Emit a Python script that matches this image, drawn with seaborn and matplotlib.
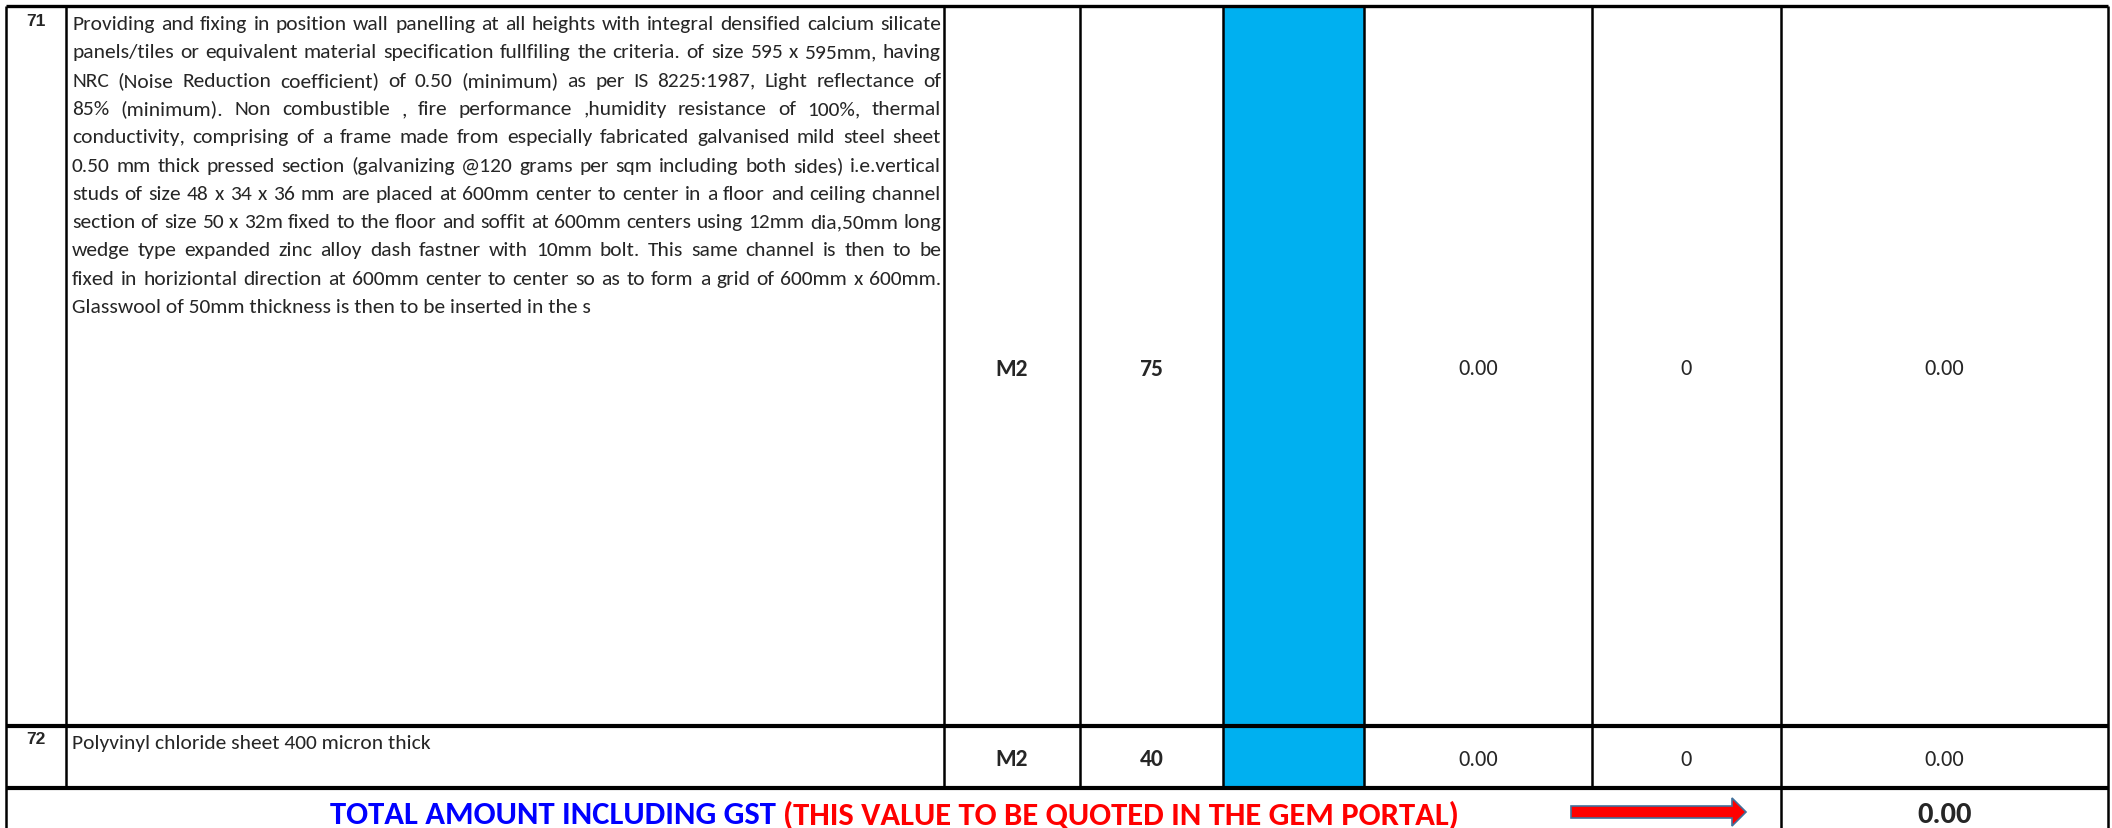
import matplotlib
matplotlib.use("Agg")
import matplotlib.pyplot as plt
from matplotlib import font_manager
from matplotlib.patches import FancyArrow
import seaborn as sns

# Table contents
item_numbers = ["71", "72"]
item_71_lines = [
    "Providing and fixing in position wall panelling at all heights with integral densified calcium silicate",
    "panels/tiles or equivalent material specification fullfiling the criteria. of size 595 x 595mm, having",
    "NRC (Noise Reduction coefficient) of 0.50 (minimum) as per IS 8225:1987, Light reflectance of",
    "85% (minimum). Non combustible , fire performance ,humidity resistance of 100%, thermal",
    "conductivity, comprising of a frame made from especially fabricated galvanised mild steel sheet",
    "0.50 mm thick pressed section (galvanizing @120 grams per sqm including both sides) i.e.vertical",
    "studs of size 48 x 34 x 36 mm are placed at 600mm center to center in a floor and ceiling channel",
    "section of size 50 x 32m fixed to the floor and soffit at 600mm centers using 12mm dia,50mm long",
    "wedge type expanded zinc alloy dash fastner with 10mm bolt. This same channel is then to be",
    "fixed in horiziontal direction at 600mm center to center so as to form a grid of 600mm x 600mm.",
    "Glasswool of 50mm thickness is then to be inserted in the s",
]
item_72_lines = ["Polyvinyl chloride sheet 400 micron thick"]
units = ["M2", "M2"]
quantities = ["75", "40"]
rates = ["0.00", "0.00"]
gst = ["0", "0"]
amounts = ["0.00", "0.00"]
total_label_blue = "TOTAL AMOUNT INCLUDING GST "
total_label_red = "(THIS VALUE TO BE QUOTED IN THE GEM PORTAL)"
total_amount = "0.00"

# layout (pixels)
W, H = 2112, 829
col_edges = [6, 66, 944, 1080, 1223, 1364, 1592, 1781, 2108]
row_edges = [7, 727, 789]
line_y0, line_step = 23, 28.3

sns.set_theme(style="white")
available = {f.name for f in font_manager.fontManager.ttflist}
body_font = next((f for f in ["Carlito", "Liberation Sans Narrow", "Lato"] if f in available), "DejaVu Sans")
target_size = {"Carlito": 16.5, "Liberation Sans Narrow": 15.0, "Lato": 14.8}.get(body_font, 14)
plt.rcParams["font.family"] = [body_font, "DejaVu Sans"]

fig = plt.figure(figsize=(W / 100, H / 100), dpi=100)
ax = fig.add_axes([0, 0, 1, 1])
ax.set_xlim(0, W)
ax.set_ylim(H, 0)
ax.axis("off")
fig.canvas.draw()
renderer = fig.canvas.get_renderer()


def text_width(s, **kw):
    t = ax.text(0, 0, s, **kw)
    w = t.get_window_extent(renderer).width
    t.remove()
    return w


# fit body size to the description column
x_left, x_right = 72, 941
widest = max(text_width(s, fontsize=10) for s in item_71_lines)
body_size = min(target_size, 10 * (x_right - x_left) / widest * 0.99)


def justified(text, y, last=False):
    words = text.split(" ")
    if last or len(words) < 2:
        ax.text(x_left, y, text, fontsize=body_size, ha="left", va="center_baseline")
        return
    widths = [text_width(w, fontsize=body_size) for w in words]
    gap = (x_right - x_left - sum(widths)) / (len(words) - 1)
    x = x_left
    for w, wd in zip(words, widths):
        ax.text(x, y, w, fontsize=body_size, ha="left", va="center_baseline")
        x += wd + gap


# blue input column
ax.axvspan(col_edges[4], col_edges[5], ymin=1 - row_edges[2] / H, ymax=1 - row_edges[0] / H,
           color="#00B0F0", lw=0, zorder=0)

# descriptions
for i, line in enumerate(item_71_lines):
    justified(line, line_y0 + i * line_step, last=(i == len(item_71_lines) - 1))
justified(item_72_lines[0], 742, last=True)

# item numbers and values
num_y = [20, 738]
centers = [(a + b) / 2 for a, b in zip(col_edges[:-1], col_edges[1:])]
row_centers = [(a + b) / 2 for a, b in zip(row_edges[:-1], row_edges[1:])]
for r in range(2):
    ax.text(centers[0], num_y[r], item_numbers[r], fontsize=12.5, fontweight="bold",
            family="Liberation Sans", ha="center", va="center_baseline")
    ax.text(centers[2], row_centers[r], units[r], fontsize=body_size + 1.5, fontweight="bold",
            ha="center", va="center_baseline")
    ax.text(centers[3], row_centers[r], quantities[r], fontsize=body_size + 1.5, fontweight="bold",
            ha="center", va="center_baseline")
    ax.text(centers[5], row_centers[r], rates[r], fontsize=body_size + 0.5, ha="center", va="center_baseline")
    ax.text(centers[6], row_centers[r], gst[r], fontsize=body_size + 0.5, ha="center", va="center_baseline")
    ax.text(centers[7], row_centers[r], amounts[r], fontsize=body_size + 0.5, ha="center", va="center_baseline")

# total row
total_y = 813
tx0, tx1 = 330, 1459
wb = text_width(total_label_blue, fontsize=10, fontweight="bold")
wr = text_width(total_label_red, fontsize=10, fontweight="bold")
total_size = 10 * (tx1 - tx0) / (wb + wr)
wb = text_width(total_label_blue, fontsize=total_size, fontweight="bold")
ax.text(tx0, total_y, total_label_blue, fontsize=total_size, fontweight="bold", color="#0000FF",
        ha="left", va="center_baseline")
ax.text(tx0 + wb, total_y, total_label_red, fontsize=total_size, fontweight="bold", color="#FF0000",
        ha="left", va="center_baseline")
ax.text(centers[7], total_y, total_amount, fontsize=22, fontweight="heavy",
        ha="center", va="center_baseline")
ax.add_patch(FancyArrow(1571, total_y, 175, 0, width=12, head_width=28, head_length=14,
                        length_includes_head=True, facecolor="#FF0000", edgecolor="#41719C", lw=1.2))

# grid lines
ax.hlines(row_edges[0], col_edges[0], col_edges[-1], color="black", lw=2.4)
ax.hlines(row_edges[1:], col_edges[0], col_edges[-1], color="black", lw=3.0)
ax.vlines([col_edges[0], col_edges[-1], col_edges[-2]], row_edges[0], H, color="black", lw=1.8)
ax.vlines(col_edges[1:-2], row_edges[0], row_edges[2], color="black", lw=1.8)

fig.savefig("out.png", dpi=100)
